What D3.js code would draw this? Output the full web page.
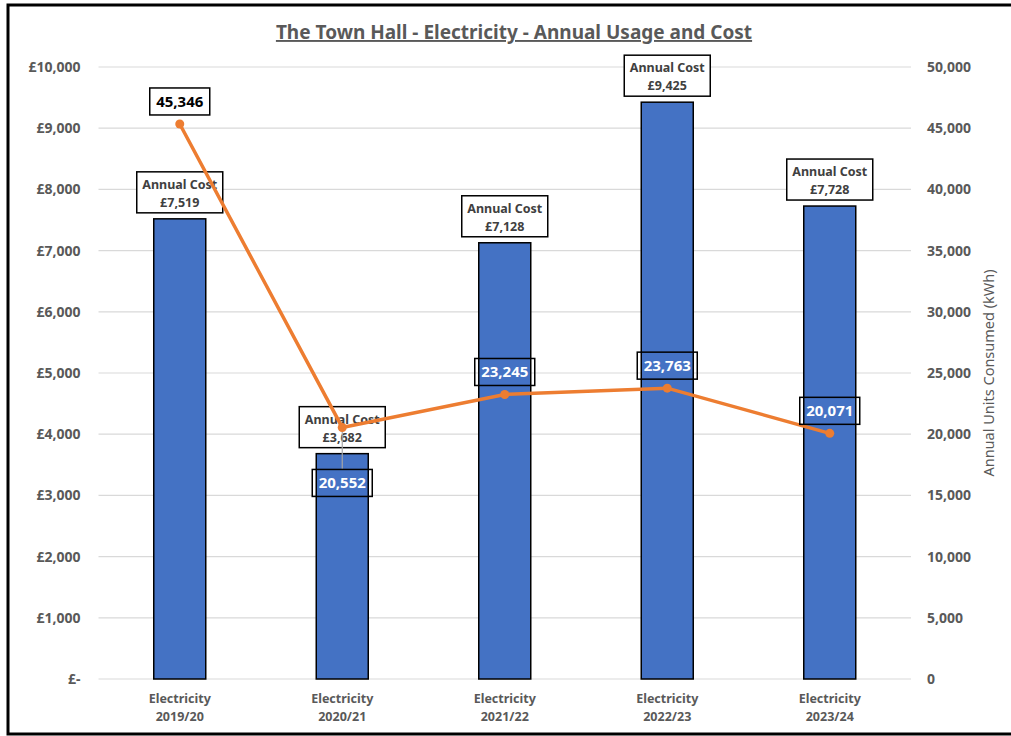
<html>
<head>
<script src="https://d3js.org/d3.v7.min.js"></script>
<style>
  body { margin: 0; background: white; }
  text { font-family: "Noto Sans", "Open Sans", sans-serif; }
</style>
</head>
<body>
<svg width="1011" height="736"></svg>
<script>
  // data
  var years = ["2019/20", "2020/21", "2021/22", "2022/23", "2023/24"];
  var annualCost = [7519, 3682, 7128, 9425, 7728];
  var unitsKwh = [45346, 20552, 23245, 23763, 20071];
  var costTicks = [0, 1000, 2000, 3000, 4000, 5000, 6000, 7000, 8000, 9000, 10000];
  var unitTicks = [0, 5000, 10000, 15000, 20000, 25000, 30000, 35000, 40000, 45000, 50000];

  var svg = d3.select("svg");
  var plotL = 98.5, plotR = 911, plotT = 67, plotB = 679;
  var grey = "#595959";

  // chart frame (cut off on the right like the source)
  svg.append("rect").attr("x", 8).attr("y", 5).attr("width", 1020).attr("height", 729)
    .attr("fill", "white").attr("stroke", "black").attr("stroke-width", 3);

  var xs = d3.scaleBand().domain(d3.range(years.length)).range([plotL, plotR])
    .paddingInner(0.68).paddingOuter(0.34);
  var yc = d3.scaleLinear().domain([0, 10000]).range([plotB, plotT]);
  var yu = d3.scaleLinear().domain([0, 50000]).range([plotB, plotT]);
  var cx = i => xs(i) + xs.bandwidth() / 2;

  // gridlines
  svg.append("g").selectAll("line").data(costTicks).enter().append("line")
    .attr("x1", plotL).attr("x2", plotR)
    .attr("y1", d => yc(d)).attr("y2", d => yc(d))
    .attr("stroke", "#d9d9d9").attr("stroke-width", 1.2);

  // left axis
  var fmtCost = d => d === 0 ? "£-" : "£" + d3.format(",")(d);
  var ax = svg.append("g").attr("transform", "translate(" + (plotL - 12) + ",0)")
    .call(d3.axisLeft(yc).tickValues(costTicks).tickFormat(fmtCost).tickSize(0).tickPadding(6));
  ax.select(".domain").remove();
  ax.selectAll("text").attr("fill", grey).style("font-size", "14px").style("font-weight", "bold");

  // right axis
  var ax2 = svg.append("g").attr("transform", "translate(" + (plotR + 10) + ",0)")
    .call(d3.axisRight(yu).tickValues(unitTicks).tickFormat(d3.format(",")).tickSize(0).tickPadding(6));
  ax2.select(".domain").remove();
  ax2.selectAll("text").attr("fill", grey).style("font-size", "14px").style("font-weight", "bold");

  svg.append("text").attr("transform", "translate(994," + ((plotT + plotB) / 2) + ") rotate(-90)")
    .attr("text-anchor", "middle").attr("fill", grey).style("font-size", "14.5px")
    .text("Annual Units Consumed (kWh)");

  // x labels
  var xl = svg.append("g").selectAll("text").data(years).enter().append("text")
    .attr("text-anchor", "middle").attr("fill", grey)
    .style("font-size", "12.5px").style("font-weight", "bold");
  xl.append("tspan").attr("x", (d, i) => cx(i)).attr("y", plotB + 24).text("Electricity");
  xl.append("tspan").attr("x", (d, i) => cx(i)).attr("y", plotB + 42).text(d => d);

  // bars
  svg.append("g").selectAll("rect").data(annualCost).enter().append("rect")
    .attr("x", (d, i) => xs(i)).attr("width", xs.bandwidth())
    .attr("y", d => yc(d)).attr("height", d => plotB - yc(d))
    .attr("fill", "#4472c4").attr("stroke", "black").attr("stroke-width", 1.5);

  // cost labels (the line is drawn over them)
  var cl = svg.append("g").selectAll("g").data(annualCost).enter().append("g")
    .attr("transform", (d, i) => "translate(" + cx(i) + "," + (yc(d) - 6) + ")");
  cl.append("rect").attr("x", -43).attr("y", -41).attr("width", 86).attr("height", 41)
    .attr("fill", "white").attr("stroke", "black").attr("stroke-width", 1.5);
  cl.append("text").attr("text-anchor", "middle").attr("y", -24).attr("fill", "#404040")
    .style("font-size", "12.5px").style("font-weight", "bold").text("Annual Cost");
  cl.append("text").attr("text-anchor", "middle").attr("y", -6).attr("fill", "#404040")
    .style("font-size", "12.5px").style("font-weight", "bold").text(d => "£" + d3.format(",")(d));

  // leader line for the 2020/21 units label
  svg.append("line").attr("x1", cx(1)).attr("x2", cx(1))
    .attr("y1", yu(unitsKwh[1])).attr("y2", yu(unitsKwh[1]) + 42)
    .attr("stroke", "#a6a6a6").attr("stroke-width", 1.2);

  // line
  svg.append("path").datum(unitsKwh)
    .attr("d", d3.line().x((d, i) => cx(i)).y(d => yu(d)))
    .attr("fill", "none").attr("stroke", "#ed7d31").attr("stroke-width", 3.5);
  svg.append("g").selectAll("circle").data(unitsKwh).enter().append("circle")
    .attr("cx", (d, i) => cx(i)).attr("cy", d => yu(d)).attr("r", 4.5)
    .attr("fill", "#ed7d31");

  // unit labels
  var ul = svg.append("g").selectAll("g").data(unitsKwh).enter().append("g")
    .attr("transform", (d, i) => {
      var yy = yu(d) - 9;
      if (i === 1) yy = yu(d) + 69;
      return "translate(" + cx(i) + "," + yy + ")";
    });
  ul.append("rect").attr("x", -30).attr("y", -27).attr("width", 60).attr("height", 27)
    .attr("fill", (d, i) => i === 0 ? "white" : "none").attr("stroke", "black").attr("stroke-width", 1.5);
  ul.append("text").attr("text-anchor", "middle").attr("y", -8)
    .attr("fill", (d, i) => i === 0 ? "black" : "white")
    .style("font-size", "15px").style("font-weight", "bold").text(d => d3.format(",")(d));

  // title
  svg.append("text").attr("x", 514).attr("y", 39).attr("text-anchor", "middle")
    .attr("fill", grey).style("font-size", "19px").style("font-weight", "bold")
    .attr("text-decoration", "underline")
    .text("The Town Hall - Electricity - Annual Usage and Cost");
</script>
</body>
</html>
